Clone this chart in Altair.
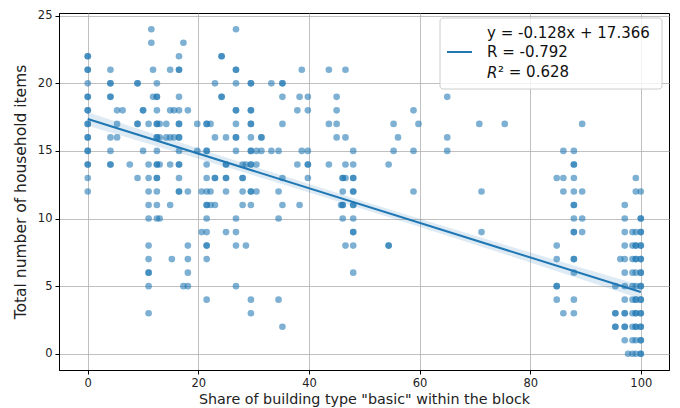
import altair as alt
import pandas as pd

# ---- data ----
# columns of points: share value and the household-item counts observed at that share
col_share = [0, 4.1, 5.3, 6.3, 7.6, 9.0, 10.0, 11.0, 11.5, 11.8, 12.5, 13.0, 14.2, 14.9, 15.2,
             15.6, 16.5, 17.3, 18.1, 19.8, 20.6, 21.5, 22.2, 23.0, 24.2, 25.0, 26.8, 28.0,
             28.6, 29.5, 30.5, 31.4, 33.2, 34.5, 35.2, 37.9, 38.3, 38.7, 39.8, 43.6, 45.0,
             45.8, 46.1, 46.6, 48.0, 54.4, 55.3, 56.1, 58.9, 59.8, 65.0, 70.8, 71.2, 75.4,
             84.8, 86.0, 87.9, 89.4, 95.4, 96.3, 97.1, 97.7, 98.5, 99.1, 100.0]
col_items = [
    [12, 13, 14, 14, 15, 15, 16, 16, 17, 17, 18, 18, 19, 19, 20, 21, 21, 22, 22],
    [21, 20, 20, 19, 19, 16, 15, 14, 14],
    [18, 17, 16],
    [18],
    [14],
    [20, 20, 17, 17, 13],
    [18, 18, 15],
    [17, 14, 13, 12, 11, 10, 8, 7, 6, 6, 5, 3],
    [24, 23],
    [21, 19],
    [20, 19, 19, 18, 17, 17, 16, 16, 15, 14, 14, 13, 13, 12, 11, 10],
    [17, 16, 14, 10],
    [16, 17],
    [21, 18, 14, 11, 16],
    [7],
    [18, 16],
    [22, 21, 21, 19, 18, 17, 17, 16, 16, 15, 14, 14, 13, 12, 12],
    [23, 5],
    [18, 12, 8, 7, 6, 5],
    [17, 15],
    [12, 9],
    [17, 17, 15, 15, 14, 13, 12, 11, 11, 10, 9, 8, 8, 7, 4],
    [17, 12, 11],
    [20, 16, 13, 13, 11],
    [22, 22, 19, 19],
    [16, 14, 14, 13, 13, 12, 9],
    [24, 21, 21, 20, 18, 18, 17, 16, 16, 15, 10, 9, 8, 5],
    [14, 13, 13, 12, 11],
    [8, 14],
    [20, 20, 18, 18, 17, 17, 16, 15, 15, 14, 14, 12, 12, 11, 4, 3],
    [15, 14, 12],
    [16, 16, 15],
    [20, 15],
    [15, 12, 10, 4],
    [20, 20, 19, 17, 13, 11, 2],
    [18, 14],
    [19, 11],
    [21, 15],
    [19, 18, 15, 14, 14, 13],
    [21, 17, 14],
    [19, 18, 17, 16],
    [11],
    [13, 13, 12, 11, 11, 10],
    [21, 16, 14, 13, 8],
    [15, 14, 13, 13, 12, 12, 11, 11, 10, 9, 9, 8, 6],
    [14, 8, 8],
    [17, 15],
    [16],
    [18, 15, 12],
    [17],
    [19, 16, 15],
    [17],
    [12, 9],
    [17],
    [13, 8, 7, 5, 5, 4],
    [15, 13, 12, 3],
    [15, 14, 14, 13, 12, 11, 11, 10, 9, 9, 7, 7, 6, 4, 3],
    [17, 12, 10, 9],
    [5, 3, 3, 2, 2],
    [7],
    [11, 10, 9, 8, 7, 6, 5, 4, 3, 3, 2, 2, 1],
    [0],
    [9, 8, 7, 6, 5, 4, 3, 2, 1, 0],
    [13, 12, 9, 8, 8, 7, 7, 6, 5, 4, 4, 3, 3, 2, 2, 1, 0],
    [12, 10, 10, 9, 9, 8, 8, 7, 7, 6, 6, 5, 5, 4, 4, 3, 3, 2, 2, 1, 1, 0, 0],
]

# regression shown in the legend
slope = -0.128
intercept = 17.366
fit_range = [0, 100]
# confidence band half-width
band_share = [0, 25, 50, 75, 100]
band_half = [0.5, 0.35, 0.3, 0.35, 0.5]

legend_lines = ["y = -0.128x + 17.366", "R = -0.792"]
r2_text = "\u00b2 = 0.628"

x_ticks = [0, 20, 40, 60, 80, 100]
y_ticks = [0, 5, 10, 15, 20, 25]

# ---- build tables ----
rows = []
for s, items in zip(col_share, col_items):
    for v in items:
        rows.append({"share": s, "items": v})
points = pd.DataFrame(rows)
band = pd.DataFrame({"share": band_share, "half": band_half})
fit = pd.DataFrame({"share": fit_range})

BLUE = "#1f77b4"
FONT = "DejaVu Sans"
xscale = alt.Scale(domain=[-5.2, 105.1], nice=False, zero=False)
yscale = alt.Scale(domain=[-1.2, 25.2], nice=False, zero=False)

xax = alt.Axis(values=x_ticks, title='Share of building type "basic" within the block',
               grid=True)
yax = alt.Axis(values=y_ticks, title="Total number of household items", grid=True)

pts = alt.Chart(points).mark_circle(size=44, opacity=0.58, color=BLUE).encode(
    x=alt.X("share:Q", scale=xscale, axis=xax),
    y=alt.Y("items:Q", scale=yscale, axis=yax),
)

band_layer = alt.Chart(band).transform_calculate(
    fity=f"{slope}*datum.share + {intercept}"
).transform_calculate(
    lo="datum.fity - datum.half", hi="datum.fity + datum.half"
).mark_area(color=BLUE, opacity=0.15, interpolate="monotone").encode(
    x=alt.X("share:Q", scale=xscale),
    y=alt.Y("lo:Q", scale=yscale),
    y2="hi:Q",
)

line = alt.Chart(fit).transform_calculate(
    fity=f"{slope}*datum.share + {intercept}"
).mark_line(color=BLUE, strokeWidth=2).encode(
    x=alt.X("share:Q", scale=xscale),
    y=alt.Y("fity:Q", scale=yscale),
)

one = pd.DataFrame({"a": [0]})
L0, T0 = 59, 13  # plot origin inside the page
box = alt.Chart(one).mark_rect(fill="white", fillOpacity=0.8, stroke="#cccccc",
                               strokeWidth=1, cornerRadius=3).encode(
    x=alt.value(440 - L0), x2=alt.value(662 - L0),
    y=alt.value(18 - T0), y2=alt.value(89 - T0),
)
leg_line = alt.Chart(one).mark_rule(color=BLUE, strokeWidth=2).encode(
    x=alt.value(447 - L0), x2=alt.value(472 - L0), y=alt.value(52 - T0),
)
leg_texts = []
for i, t in enumerate(legend_lines):
    leg_texts.append(alt.Chart(one).mark_text(
        text=t, align="left", baseline="middle", font=FONT, fontSize=15, color="#111"
    ).encode(x=alt.value(487 - L0), y=alt.value(33 + 19 * i - T0)))
r_ital = alt.Chart(one).mark_text(
    text="R", align="left", baseline="middle", font=FONT, fontSize=15,
    fontStyle="italic", color="#111"
).encode(x=alt.value(487 - L0), y=alt.value(73 - T0))
r2 = alt.Chart(one).mark_text(
    text=r2_text, align="left", baseline="middle", font=FONT, fontSize=15, color="#111"
).encode(x=alt.value(498 - L0), y=alt.value(72 - T0))

chart = alt.layer(band_layer, pts, line, box, leg_line, *leg_texts, r_ital, r2).properties(
    width=610, height=357,
    padding={"left": 59, "top": 13, "right": 11, "bottom": 38},
    autosize=alt.AutoSizeParams(type="none"),
).configure_view(
    stroke="black", strokeWidth=1
).configure_axis(
    gridColor="#b0b0b0", gridWidth=0.8, gridOpacity=1,
    domainColor="black", tickColor="black", tickSize=4,
    labelFont=FONT, labelFontSize=11.5, labelColor="#222",
    titleFont=FONT, titleColor="#222", titleFontWeight="normal",
).configure_axisX(
    labelPadding=3, titlePadding=4, titleFontSize=14.3,
).configure_axisY(
    labelPadding=3, titlePadding=9, titleFontSize=15.5,
)

chart.save("out.html", embed_options={"renderer": "svg", "actions": False})
